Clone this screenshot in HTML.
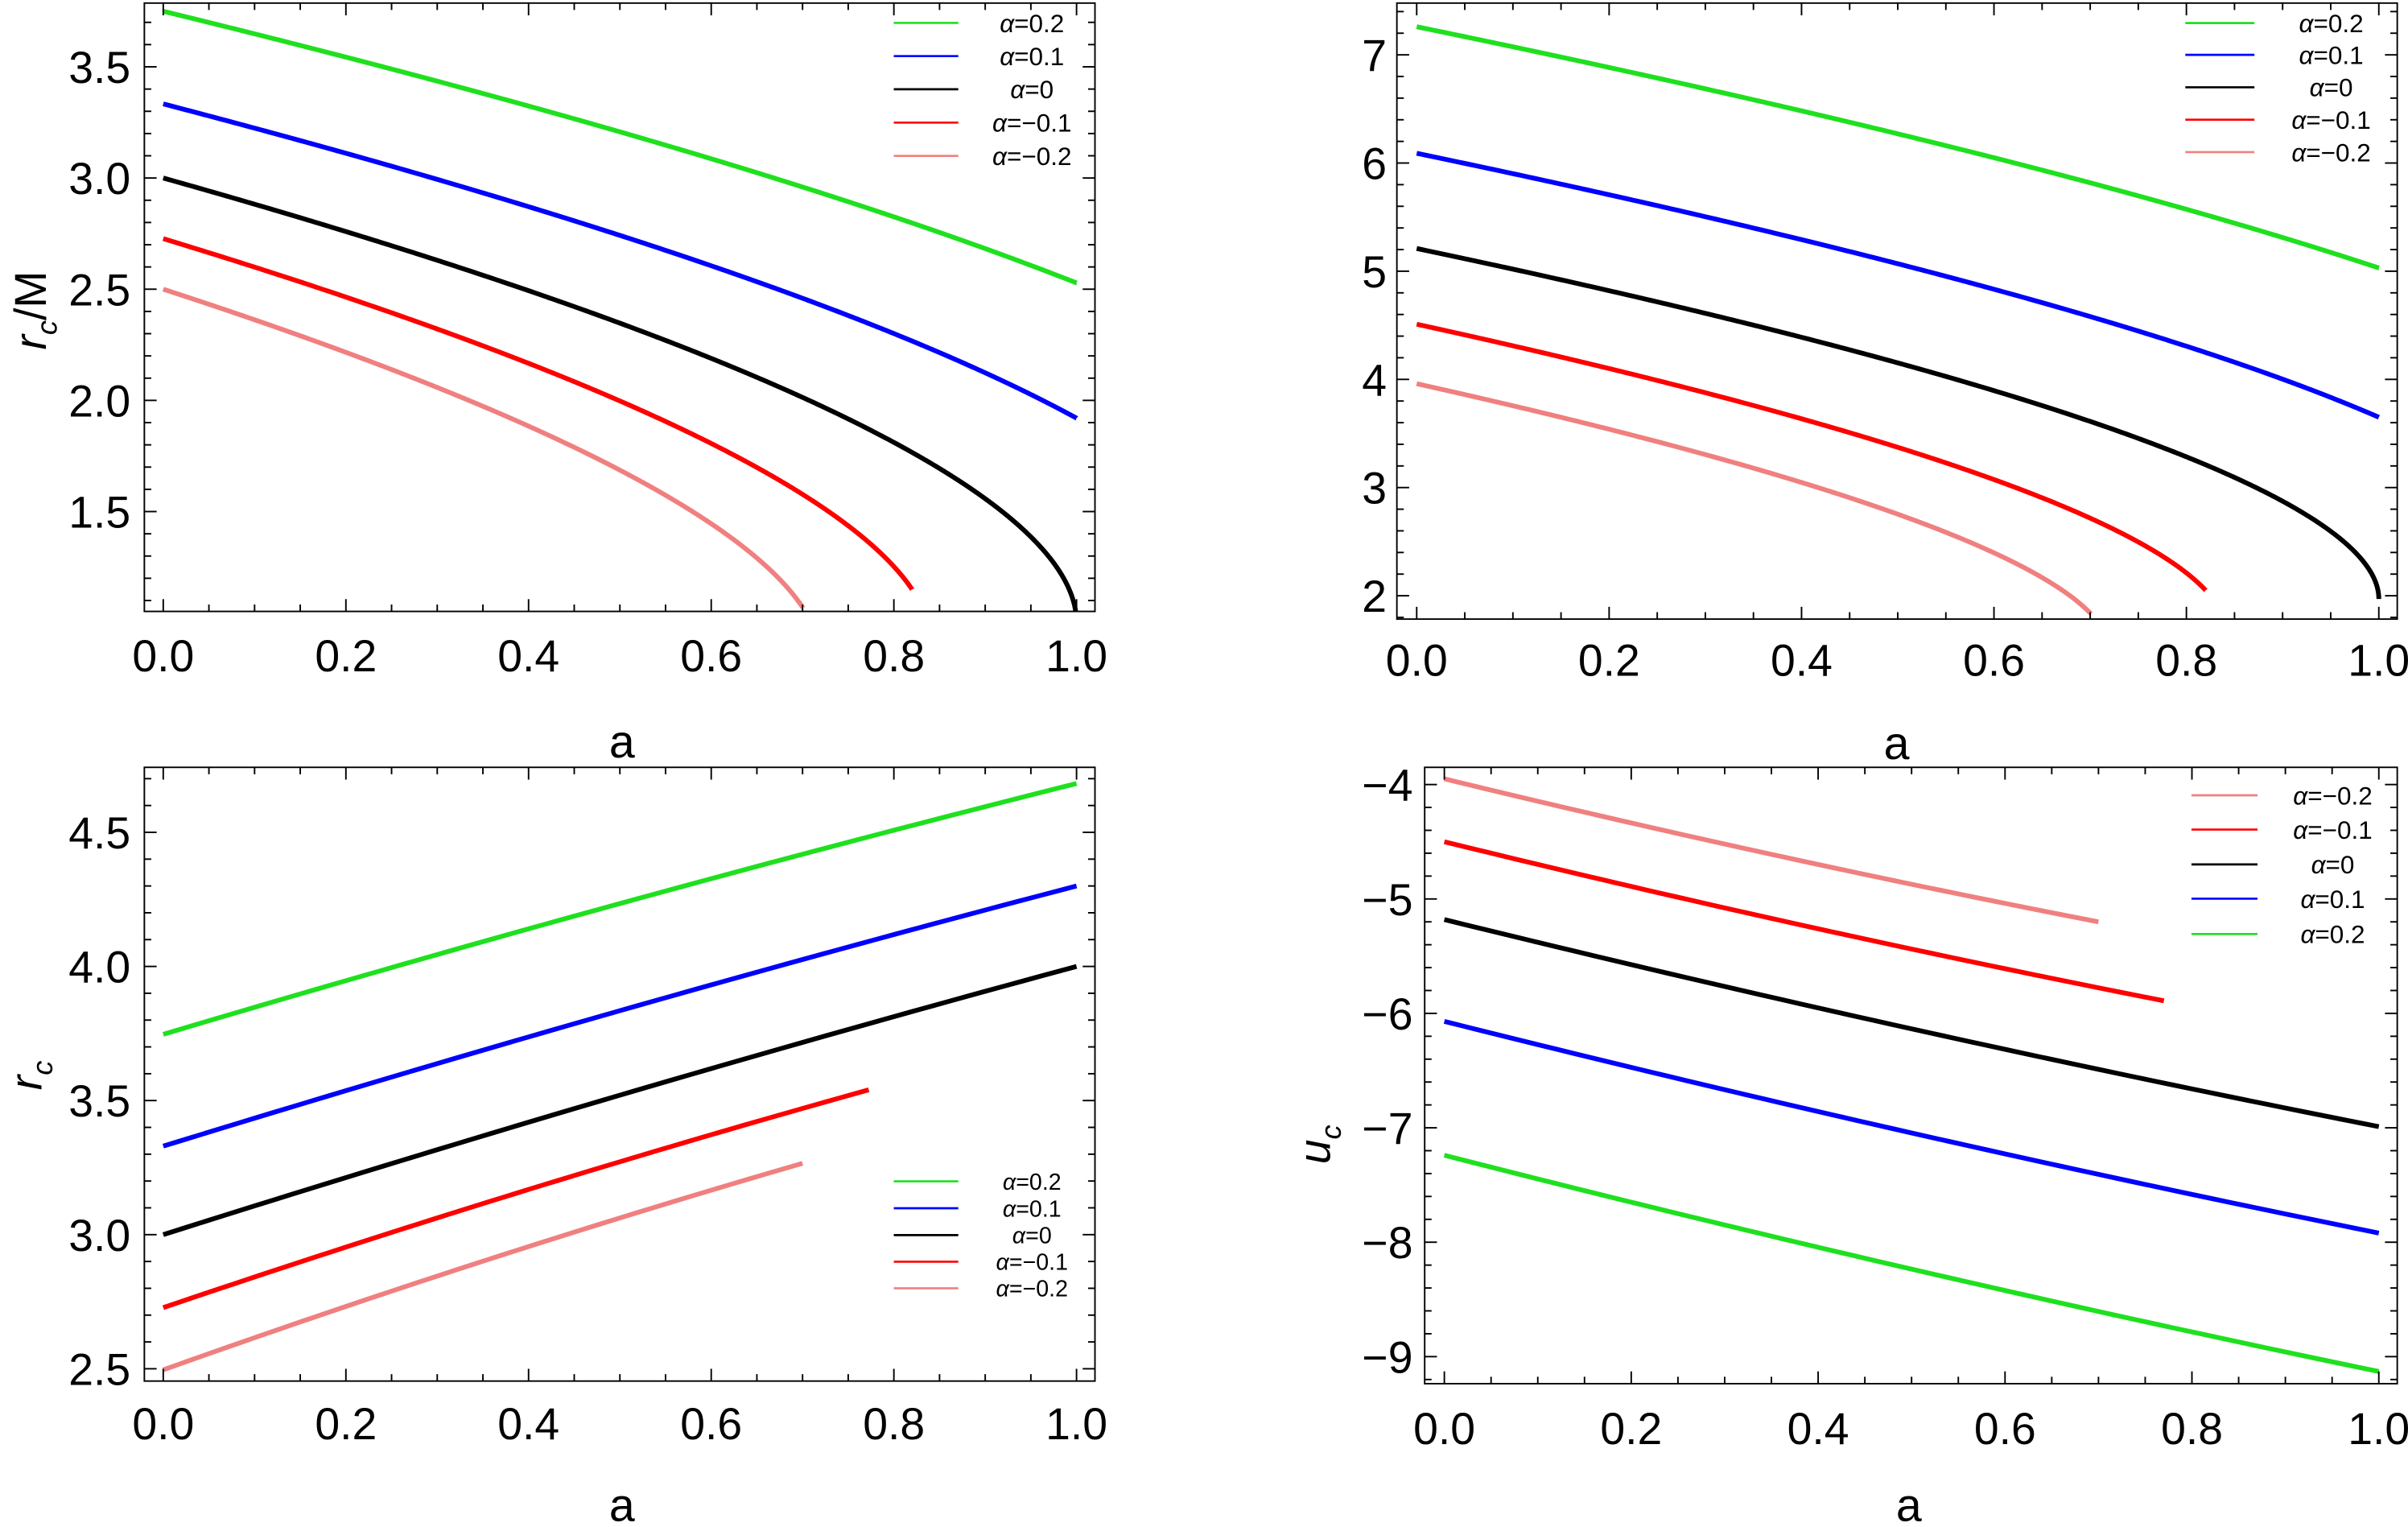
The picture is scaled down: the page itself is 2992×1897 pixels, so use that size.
<!DOCTYPE html>
<html><head><meta charset="utf-8"><style>
html,body{margin:0;padding:0;background:#fff;}
svg{display:block;}
text{font-family:"Liberation Sans",sans-serif;fill:#000;}
</style></head><body>
<svg id="s" width="2992" height="1897" viewBox="0 0 1568 994" preserveAspectRatio="none" xmlns="http://www.w3.org/2000/svg"></svg>
<script>
var S=document.getElementById('s');var out='';
var COL={g:'#1fe01f',b:'#0000ff',k:'#000000',r:'#ff0000',p:'#f08080'};
function path(pts,c,w){var d='';for(var i=0;i<pts.length;i++)d+=(i?'L':'M')+pts[i][0].toFixed(2)+' '+pts[i][1].toFixed(2);out+='<path d="'+d+'" fill="none" stroke="'+c+'" stroke-width="'+(w||3.1)+'" stroke-linejoin="round"/>';}
function frame(P){out+='<rect x="'+P.x0+'" y="'+P.y0+'" width="'+(P.x1-P.x0)+'" height="'+(P.y1-P.y0)+'" fill="none" stroke="#000" stroke-width="1"/>';
 // x ticks
 for(var i=0;i<=20;i++){var a=i*0.05;var x=P.xa(a);var L=(i%4==0)?8:4.5;
  out+='<line x1="'+x+'" y1="'+P.y1+'" x2="'+x+'" y2="'+(P.y1-L)+'" stroke="#000" stroke-width="1"/>';
  out+='<line x1="'+x+'" y1="'+P.y0+'" x2="'+x+'" y2="'+(P.y0+L)+'" stroke="#000" stroke-width="1"/>';
  if(i%4==0)out+='<text x="'+x+'" y="'+P.xl+'" font-size="29" text-anchor="middle">'+a.toFixed(1)+'</text>';}
 for(var v=P.ymin;v<=P.ymax+1e-9;v+=P.minor){var y=P.yv(v);if(y<P.y0||y>P.y1)continue;
  var maj=Math.abs(v/P.major-Math.round(v/P.major))<1e-6;var L=maj?8:4.5;
  out+='<line x1="'+P.x0+'" y1="'+y+'" x2="'+(P.x0+L)+'" y2="'+y+'" stroke="#000" stroke-width="1"/>';
  out+='<line x1="'+P.x1+'" y1="'+y+'" x2="'+(P.x1-L)+'" y2="'+y+'" stroke="#000" stroke-width="1"/>';
  if(maj){var t=P.fmt(v);out+='<text x="'+P.yl+'" y="'+(y+10.5)+'" font-size="29" text-anchor="end">'+t+'</text>';}}
}
function legend(items,x0,x1,xt,ys,fs){for(var i=0;i<items.length;i++){var it=items[i];
 out+='<line x1="'+x0+'" y1="'+ys[i]+'" x2="'+x1+'" y2="'+ys[i]+'" stroke="'+COL[it[0]]+'" stroke-width="1.4"/>';
 out+='<text x="'+xt+'" y="'+(ys[i]+fs*0.36)+'" font-size="'+fs+'" text-anchor="middle"><tspan font-style="italic">α</tspan>='+it[1]+'</text>';}}
function clipPath(id,P){out+='<clipPath id="'+id+'"><rect x="'+P.x0+'" y="'+P.y0+'" width="'+(P.x1-P.x0)+'" height="'+(P.y1-P.y0)+'"/></clipPath>';}
// Panels
var P1={x0:94,x1:713,y0:2,y1:398,xa:function(a){return 106.3+594.7*a},yv:function(v){return 43.5+(3.5-v)*144.75},ymin:1.1,ymax:3.8,minor:0.1,major:0.5,xl:437,yl:85,fmt:function(v){return v.toFixed(1)}};
var P2={x0:909.6,x1:1561,y0:2,y1:403,xa:function(a){return 922.5+626.5*a},yv:function(v){return 35.7+(7-v)*70.42},ymin:1.8,ymax:7.4,minor:0.2,major:1,xl:440,yl:903,fmt:function(v){return Math.round(v)+''}};
var P3={x0:94,x1:713,y0:499.5,y1:899,xa:function(a){return 106.3+594.7*a},yv:function(v){return 541.8+(4.5-v)*174.6},ymin:2.4,ymax:4.8,minor:0.1,major:0.5,xl:937,yl:85,fmt:function(v){return v.toFixed(1)}};
var P4={x0:927.7,x1:1561,y0:499.5,y1:900.7,xa:function(a){return 940.5+608.5*a},yv:function(v){return 510.7+(-4-v)*74.48},ymin:-9.2,ymax:-3.8,minor:0.2,major:1,xl:940,yl:920,fmt:function(v){return '&#8722;'+Math.abs(Math.round(v))}};
out+='<defs>';clipPath('c1',P1);clipPath('c2',P2);clipPath('c3',P3);clipPath('c4',P4);out+='</defs>';
// series for top panels
var ser=[['g',0.2,0.695,1],['b',0.1,0.836,1],['k',0,1,1],['r',-0.1,1.19,0.82],['p',-0.2,1.389,0.70]];
var bvals={g:[7.26,5.03],b:[6.09,3.65],k:[5.21,1.97],r:[4.51,2.05],p:[3.96,1.84]};
function rc(al,k,a){var M=1/(1-al);var x=Math.min(1,k*a);return 2*M*(1+Math.cos(2/3*Math.acos(-x)));}
out+='<g clip-path="url(#c1)">';
ser.forEach(function(s){var pts=[];var N=400;for(var i=0;i<=N;i++){var t=i/N;var a=s[3]*(1-Math.pow(1-t,2));pts.push([P1.xa(a),P1.yv(rc(s[1],s[2],a))]);}path(pts,COL[s[0]]);});
out+='</g><g clip-path="url(#c2)">';
ser.forEach(function(s){var r0=rc(s[1],s[2],0),r1=rc(s[1],s[2],s[3]);var b=bvals[s[0]];var pts=[];var N=400;
 for(var i=0;i<=N;i++){var t=i/N;var a=s[3]*(1-Math.pow(1-t,2));var r=rc(s[1],s[2],a);var v=b[0]+(r-r0)/(r1-r0)*(b[1]-b[0]);pts.push([P2.xa(a),P2.yv(v)]);}path(pts,COL[s[0]]);});
out+='</g>';
// bottom-left linear
var bl=[['g',3.747,4.682,1],['b',3.33,4.30,1],['k',3.0,4.0,1],['r',2.728,3.54,0.7725],['p',2.496,3.266,0.70]];
out+='<g clip-path="url(#c3)">';
bl.forEach(function(s){var pts=[];for(var i=0;i<=50;i++){var t=i/50;var a=s[3]*t;var v=s[1]+(s[2]-s[1])*t+0.02*4*t*(1-t);pts.push([P3.xa(a),P3.yv(v)]);}path(pts,COL[s[0]]);});
out+='</g>';
var br=[['p',-3.95,-5.2,0.70],['r',-4.50,-5.89,0.77],['k',-5.18,-6.99,1],['b',-6.07,-7.92,1],['g',-7.24,-9.13,1]];
out+='<g clip-path="url(#c4)">';
br.forEach(function(s){var pts=[];for(var i=0;i<=50;i++){var t=i/50;var a=s[3]*t;var v=s[1]+(s[2]-s[1])*t-0.05*4*t*(1-t)*s[3];pts.push([P4.xa(a),P4.yv(v)]);}path(pts,COL[s[0]]);});
out+='</g>';
frame(P1);frame(P2);frame(P3);frame(P4);
var L1=[['g','0.2'],['b','0.1'],['k','0'],['r','&#8722;0.1'],['p','&#8722;0.2']];
legend(L1,582,624,672,[14.9,36.5,58.1,79.8,101.5],16.5);
legend(L1,1423,1468,1518,[15,35.7,56.8,77.9,99],16.5);
legend(L1,582,624,672,[769,786.5,804,821.3,838.6],15);
legend([['p','&#8722;0.2'],['r','&#8722;0.1'],['k','0'],['b','0.1'],['g','0.2']],1427,1470,1519,[517.7,540,562.7,585,608],16.5);
// axis labels
out+='<text x="405" y="493" font-size="30" text-anchor="middle">a</text>';
out+='<text x="1235" y="494" font-size="30" text-anchor="middle">a</text>';
out+='<text x="405" y="990" font-size="30" text-anchor="middle">a</text>';
out+='<text x="1243" y="990" font-size="30" text-anchor="middle">a</text>';
out+='<text transform="translate(30,202) rotate(-90)" font-size="29" text-anchor="middle"><tspan font-style="italic">r</tspan><tspan font-size="19" dy="7" font-style="italic">c</tspan><tspan dy="-7">/M</tspan></text>';
out+='<text transform="translate(27,700) rotate(-90)" font-size="29" text-anchor="middle"><tspan font-style="italic">r</tspan><tspan font-size="19" dy="7" font-style="italic">c</tspan></text>';
out+='<text transform="translate(866,745) rotate(-90)" font-size="29" text-anchor="middle"><tspan font-style="italic">u</tspan><tspan font-size="19" dy="7" font-style="italic">c</tspan></text>';
S.innerHTML=out;
</script>
</body></html>
